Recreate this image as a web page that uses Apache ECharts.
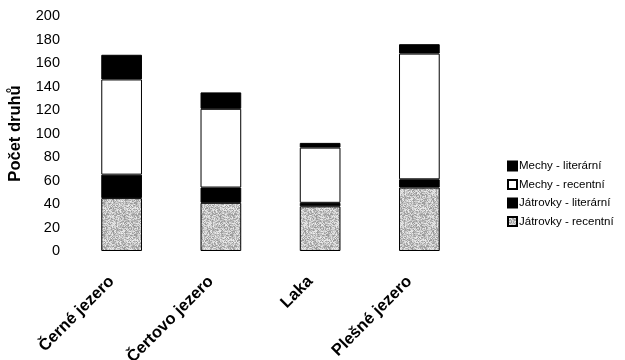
<!DOCTYPE html>
<html><head><meta charset="utf-8">
<script src="https://cdn.jsdelivr.net/npm/echarts@6/dist/echarts.min.js"></script>
<style>html,body{margin:0;padding:0;background:#fff}#c{width:625px;height:360px}</style>
</head><body><div id="c"></div>
<script>
const categories = ['Černé jezero', 'Čertovo jezero', 'Laka', 'Plešné jezero'];
const jatrovkyRecentni = [45, 41, 38, 54];
const jatrovkyLiterarni = [20, 13, 3, 7];
const mechyRecentni = [81, 67, 47, 107];
const mechyLiterarni = [21, 14, 4, 8];
const yTicks = [0, 20, 40, 60, 80, 100, 120, 140, 160, 180, 200];

// speckled grey texture (deterministic hash, style only)
const tex = document.createElement('canvas');
tex.width = 32; tex.height = 32;
const tctx = tex.getContext('2d');
for (let y = 0; y < 32; y++) for (let x = 0; x < 32; x++) {
  let h = (x * 374761393 + y * 668265263) >>> 0;
  h = ((h ^ (h >>> 13)) * 1274126177) >>> 0;
  const v = 150 + ((h >>> 8) % 90);
  tctx.fillStyle = 'rgb(' + v + ',' + v + ',' + v + ')';
  tctx.fillRect(x, y, 1, 1);
}
const greyPattern = { image: tex, repeat: 'repeat' };

const chart = echarts.init(document.getElementById('c'));
const barStyle = (c) => ({ color: c, borderColor: '#000', borderWidth: 1 });
chart.setOption({
  animation: false,
  grid: { left: 72, right: 156, top: 16, bottom: 109, containLabel: false, outerBoundsMode: 'none' },
  legend: {
    orient: 'vertical', left: 502, top: 155, itemGap: 6.5,
    itemWidth: 9, itemHeight: 9, icon: 'rect',
    textStyle: { fontFamily: 'Liberation Sans', fontSize: 11.5, color: '#000', padding: [0, 0, 0, -3] },
    data: ['Mechy - literární', 'Mechy - recentní', 'Játrovky - literární', 'Játrovky - recentní']
  },
  xAxis: {
    type: 'category', data: categories,
    axisLine: { show: false }, axisTick: { show: false },
    axisLabel: { rotate: 45, interval: 0, margin: 18, padding: [0, 14, 0, 0], fontFamily: 'Liberation Sans', fontWeight: 'bold', fontSize: 16.5, color: '#000' }
  },
  yAxis: {
    type: 'value', min: yTicks[0], max: yTicks[yTicks.length - 1], interval: 20,
    name: 'Počet druhů', nameLocation: 'middle', nameGap: 48, nameRotate: 90,
    nameTextStyle: { fontFamily: 'Liberation Sans', fontWeight: 'bold', fontSize: 16.5, color: '#000' },
    axisLine: { show: false }, axisTick: { show: false }, splitLine: { show: false },
    axisLabel: { fontFamily: 'Liberation Sans', fontSize: 14.5, color: '#000', margin: 12 }
  },
  series: [
    { name: 'Játrovky - recentní', type: 'bar', stack: 's', barWidth: '41%', data: jatrovkyRecentni, itemStyle: barStyle(greyPattern) },
    { name: 'Játrovky - literární', type: 'bar', stack: 's', data: jatrovkyLiterarni, itemStyle: barStyle('#000') },
    { name: 'Mechy - recentní', type: 'bar', stack: 's', data: mechyRecentni, itemStyle: barStyle('#fff') },
    { name: 'Mechy - literární', type: 'bar', stack: 's', data: mechyLiterarni, itemStyle: barStyle('#000') }
  ]
});
</script></body></html>
